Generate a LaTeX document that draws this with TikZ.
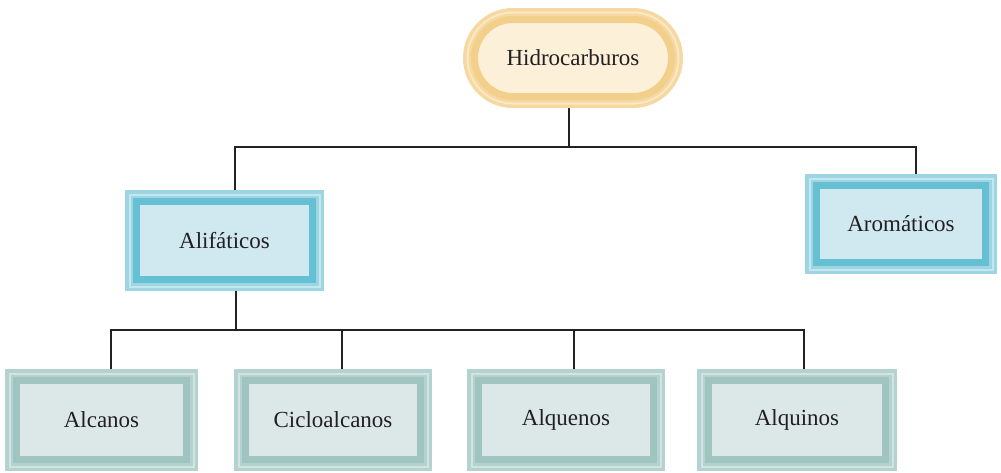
\documentclass[tikz,border=0pt]{standalone}
\usepackage{fontspec}
\setmainfont{Liberation Serif}
\usetikzlibrary{backgrounds}
\definecolor{txt}{HTML}{231F20}
\definecolor{yOut}{HTML}{F6D9A0}
\definecolor{yBand}{HTML}{F3CF8C}
\definecolor{yFill}{HTML}{FDF0D8}
\definecolor{bOut}{HTML}{9DD5E3}
\definecolor{bBand}{HTML}{66C0D3}
\definecolor{bFill}{HTML}{D0E9F1}
\definecolor{gOut}{HTML}{B4D2CF}
\definecolor{gBand}{HTML}{A0C5C1}
\definecolor{gFill}{HTML}{DCE8E8}
\definecolor{lineC}{HTML}{222222}
\tikzset{
  framed/.style n args={3}{
    shape=rectangle, text=txt, font=\fontsize{23}{27}\selectfont,
    preaction={draw=#1, line width=23pt},
    preaction={draw=white!40!#1, line width=16pt},
    preaction={draw=#1, line width=12pt},
    draw=#2, line width=7pt, fill=#3, inner sep=0pt},
  yellowbox/.style={framed={yOut}{yBand}{yFill}, rounded corners=38.5pt},
  bluebox/.style={framed={bOut}{bBand}{bFill}},
  greybox/.style={framed={gOut}{gBand}{gFill}},
  conn/.style={draw=lineC, line width=2.4pt, line cap=rect}
}
\begin{document}
\begin{tikzpicture}[x=1pt,y=-1pt]
\useasboundingbox (0,0) rectangle (1001,472);
\node[yellowbox, minimum width=197pt, minimum height=77pt] (hid) at (573,58) {Hidrocarburos};
\node[bluebox, minimum width=176pt, minimum height=78pt] (ali) at (224.5,240.5) {Alifáticos};
\node[bluebox, minimum width=169pt, minimum height=77pt] (aro) at (901,224) {Aromáticos};
\node[greybox, minimum width=170pt, minimum height=79pt] (alc) at (101.5,420) {Alcanos};
\node[greybox, minimum width=175pt, minimum height=79pt] (cic) at (333,420) {Cicloalcanos};
\node[greybox, minimum width=175pt, minimum height=79pt] (alq) at (566,420) {Alquenos};
\node[greybox, minimum width=177pt, minimum height=79pt] (aqi) at (797,420) {Alquinos};
\coordinate (tm) at (569,147);
\coordinate (ta) at (235,147);
\coordinate (tb) at (916,147);
\coordinate (bm) at (236,330);
\coordinate (b1) at (111,330);
\coordinate (b2) at (342,330);
\coordinate (b3) at (574,330);
\coordinate (b4) at (804,330);
\begin{pgfonlayer}{background}
\draw[conn] (hid.south -| tm) -- (tm);
\draw[conn] (ali.north -| ta) -- (ta) -- (tb) -- (aro.north -| tb);
\draw[conn] (ali.south -| bm) -- (bm);
\draw[conn] (b1) -- (b4);
\draw[conn] (b1) -- (alc.north -| b1);
\draw[conn] (b2) -- (cic.north -| b2);
\draw[conn] (b3) -- (alq.north -| b3);
\draw[conn] (b4) -- (aqi.north -| b4);
\end{pgfonlayer}
\end{tikzpicture}
\end{document}
